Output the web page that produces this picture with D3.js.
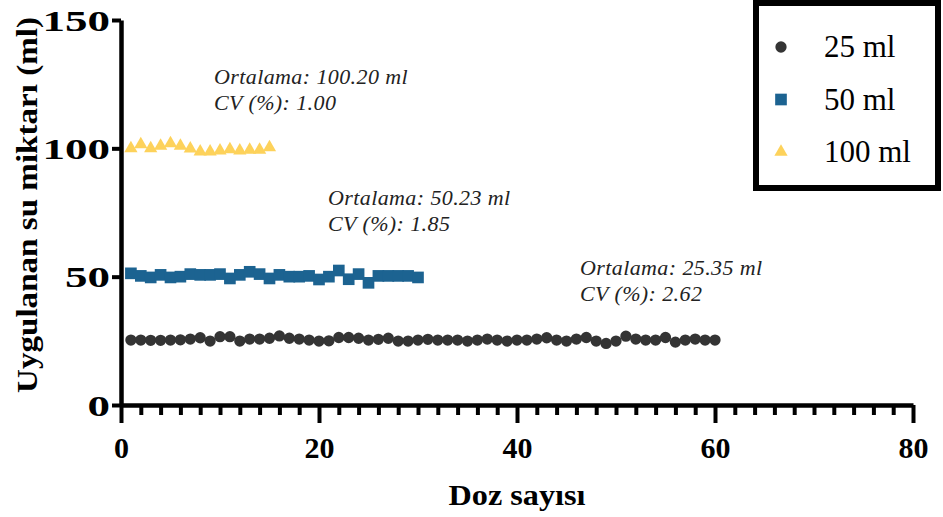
<!DOCTYPE html>
<html>
<head>
<meta charset="utf-8">
<script src="https://cdn.jsdelivr.net/npm/d3@7"></script>
<style>
  html, body { margin: 0; padding: 0; background: #fff; }
  svg { display: block; font-family: "Liberation Serif", "Times New Roman", serif; }
</style>
</head>
<body>
<svg id="chart" width="943" height="517"></svg>
<script>
// values, one per dose (Doz 1, 2, 3, ...)
const v25 = [25.3, 25.3, 25.2, 25.2, 25.3, 25.4, 25.7, 26.2, 24.9, 26.6,
             26.6, 24.9, 25.7, 25.7, 26.0, 26.9, 26.0, 25.7, 25.3, 24.9,
             25.0, 26.3, 26.3, 26.0, 25.3, 25.6, 26.0, 24.9, 24.9, 25.3,
             25.6, 25.3, 25.3, 25.3, 24.9, 25.3, 25.7, 25.3, 24.9, 25.3,
             25.3, 25.7, 26.2, 25.3, 24.9, 25.7, 26.3, 24.9, 24.0, 24.9,
             26.8, 25.7, 25.3, 25.3, 26.3, 24.5, 25.3, 25.7, 25.3, 25.3];
const v50 = [51.3, 50.3, 49.7, 50.7, 49.7, 50.0, 51.0, 50.7, 50.7, 51.0,
             49.3, 50.7, 51.9, 51.0, 49.3, 50.7, 50.0, 50.0, 50.3, 48.9,
             50.0, 52.4, 49.0, 51.0, 47.6, 50.3, 50.3, 50.3, 50.3, 49.7];
const v100 = [100.0, 101.5, 100.0, 100.9, 101.9, 100.9, 99.9, 98.7, 98.7, 99.1,
              99.6, 99.1, 99.4, 99.4, 100.4];

const seriesNames = ['25 ml', '50 ml', '100 ml'];
const meanLabels = ['Ortalama: 25.35 ml', 'Ortalama: 50.23 ml', 'Ortalama: 100.20 ml'];
const cvLabels = ['CV (%): 2.62', 'CV (%): 1.85', 'CV (%): 1.00'];
const xTicks = [0, 20, 40, 60, 80];
const yTicks = [0, 50, 100, 150];

const series = [
  { name: seriesNames[0], values: v25, color: '#343434', symbol: d3.symbolCircle, size: 100 },
  { name: seriesNames[1], values: v50, color: '#1c6391', symbol: d3.symbolSquare, size: 136 },
  { name: seriesNames[2], values: v100, color: '#fdd25b', symbol: d3.symbolTriangle, size: 76 }
];

const svg = d3.select('#chart');
const x = d3.scaleLinear().domain([0, 80]).range([121, 913]);
const y = d3.scaleLinear().domain([0, 150]).range([405, 20]);

// points
series.forEach(s => {
  svg.append('g')
    .selectAll('path')
    .data(s.values)
    .join('path')
    .attr('transform', (d, i) => `translate(${x(i + 1)},${y(d)})`)
    .attr('d', d3.symbol(s.symbol, s.size))
    .attr('fill', s.color);
});

// x axis: minor ticks every 2, major every 20
const minor = d3.range(0, 81, 2).filter(v => v % 20 !== 0);
const xMinor = svg.append('g')
  .attr('transform', 'translate(0,405)')
  .call(d3.axisBottom(x).tickValues(minor).tickSize(10).tickSizeOuter(0).tickFormat(''));
xMinor.select('.domain').remove();

const xAxis = svg.append('g')
  .attr('transform', 'translate(0,405)')
  .call(d3.axisBottom(x).tickValues(xTicks).tickSize(18).tickSizeOuter(0));
xAxis.selectAll('text')
  .attr('y', 53).attr('dy', 0)
  .attr('font-size', 30).attr('font-weight', 'bold')
  .attr('font-family', '"Liberation Serif", serif').attr('fill', '#000');

const yAxis = svg.append('g')
  .attr('transform', 'translate(121,0)')
  .call(d3.axisLeft(y).tickValues(yTicks).tickSize(9).tickSizeOuter(0));
yAxis.selectAll('text')
  .attr('x', -11).attr('dy', '0.34em')
  .attr('font-size', 30).attr('font-weight', 'bold')
  .attr('font-family', '"Liberation Serif", serif').attr('fill', '#000')
  .attr('textLength', d => String(d).length * 22.5)
  .attr('lengthAdjust', 'spacingAndGlyphs');

svg.selectAll('.domain').attr('stroke', '#000').attr('stroke-width', 4.5);
svg.selectAll('.tick line').attr('stroke', '#000').attr('stroke-width', 4);

// axis titles
svg.append('text')
  .attr('x', x(40)).attr('y', 505)
  .attr('text-anchor', 'middle')
  .attr('font-size', 30).attr('font-weight', 'bold')
  .attr('textLength', 137).attr('lengthAdjust', 'spacingAndGlyphs')
  .text('Doz sayısı');

svg.append('text')
  .attr('transform', 'translate(37,205) rotate(-90)')
  .attr('text-anchor', 'middle')
  .attr('font-size', 29).attr('font-weight', 'bold')
  .attr('textLength', 376).attr('lengthAdjust', 'spacingAndGlyphs')
  .text('Uygulanan su miktarı (ml)');

// annotations
const annPos = [[580, 275], [328, 205], [214, 84]];
annPos.forEach((p, i) => {
  const t = svg.append('text')
    .attr('font-size', 22).attr('font-style', 'italic').attr('fill', '#222')
    .attr('letter-spacing', 0.4);
  t.append('tspan').attr('x', p[0]).attr('y', p[1]).text(meanLabels[i]);
  t.append('tspan').attr('x', p[0]).attr('y', p[1] + 26).text(cvLabels[i]);
});

// legend
const legend = svg.append('g');
legend.append('rect')
  .attr('x', 756).attr('y', 3).attr('width', 182).attr('height', 185)
  .attr('fill', '#fff').attr('stroke', '#000').attr('stroke-width', 6);
series.forEach((s, i) => {
  const cy = 47 + i * 52.5;
  legend.append('path')
    .attr('transform', `translate(781,${cy})`)
    .attr('d', d3.symbol(s.symbol, s.size))
    .attr('fill', s.color);
  legend.append('text')
    .attr('x', 824).attr('y', cy + 10)
    .attr('font-size', 31).attr('fill', '#000')
    .text(s.name);
});
</script>
</body>
</html>
